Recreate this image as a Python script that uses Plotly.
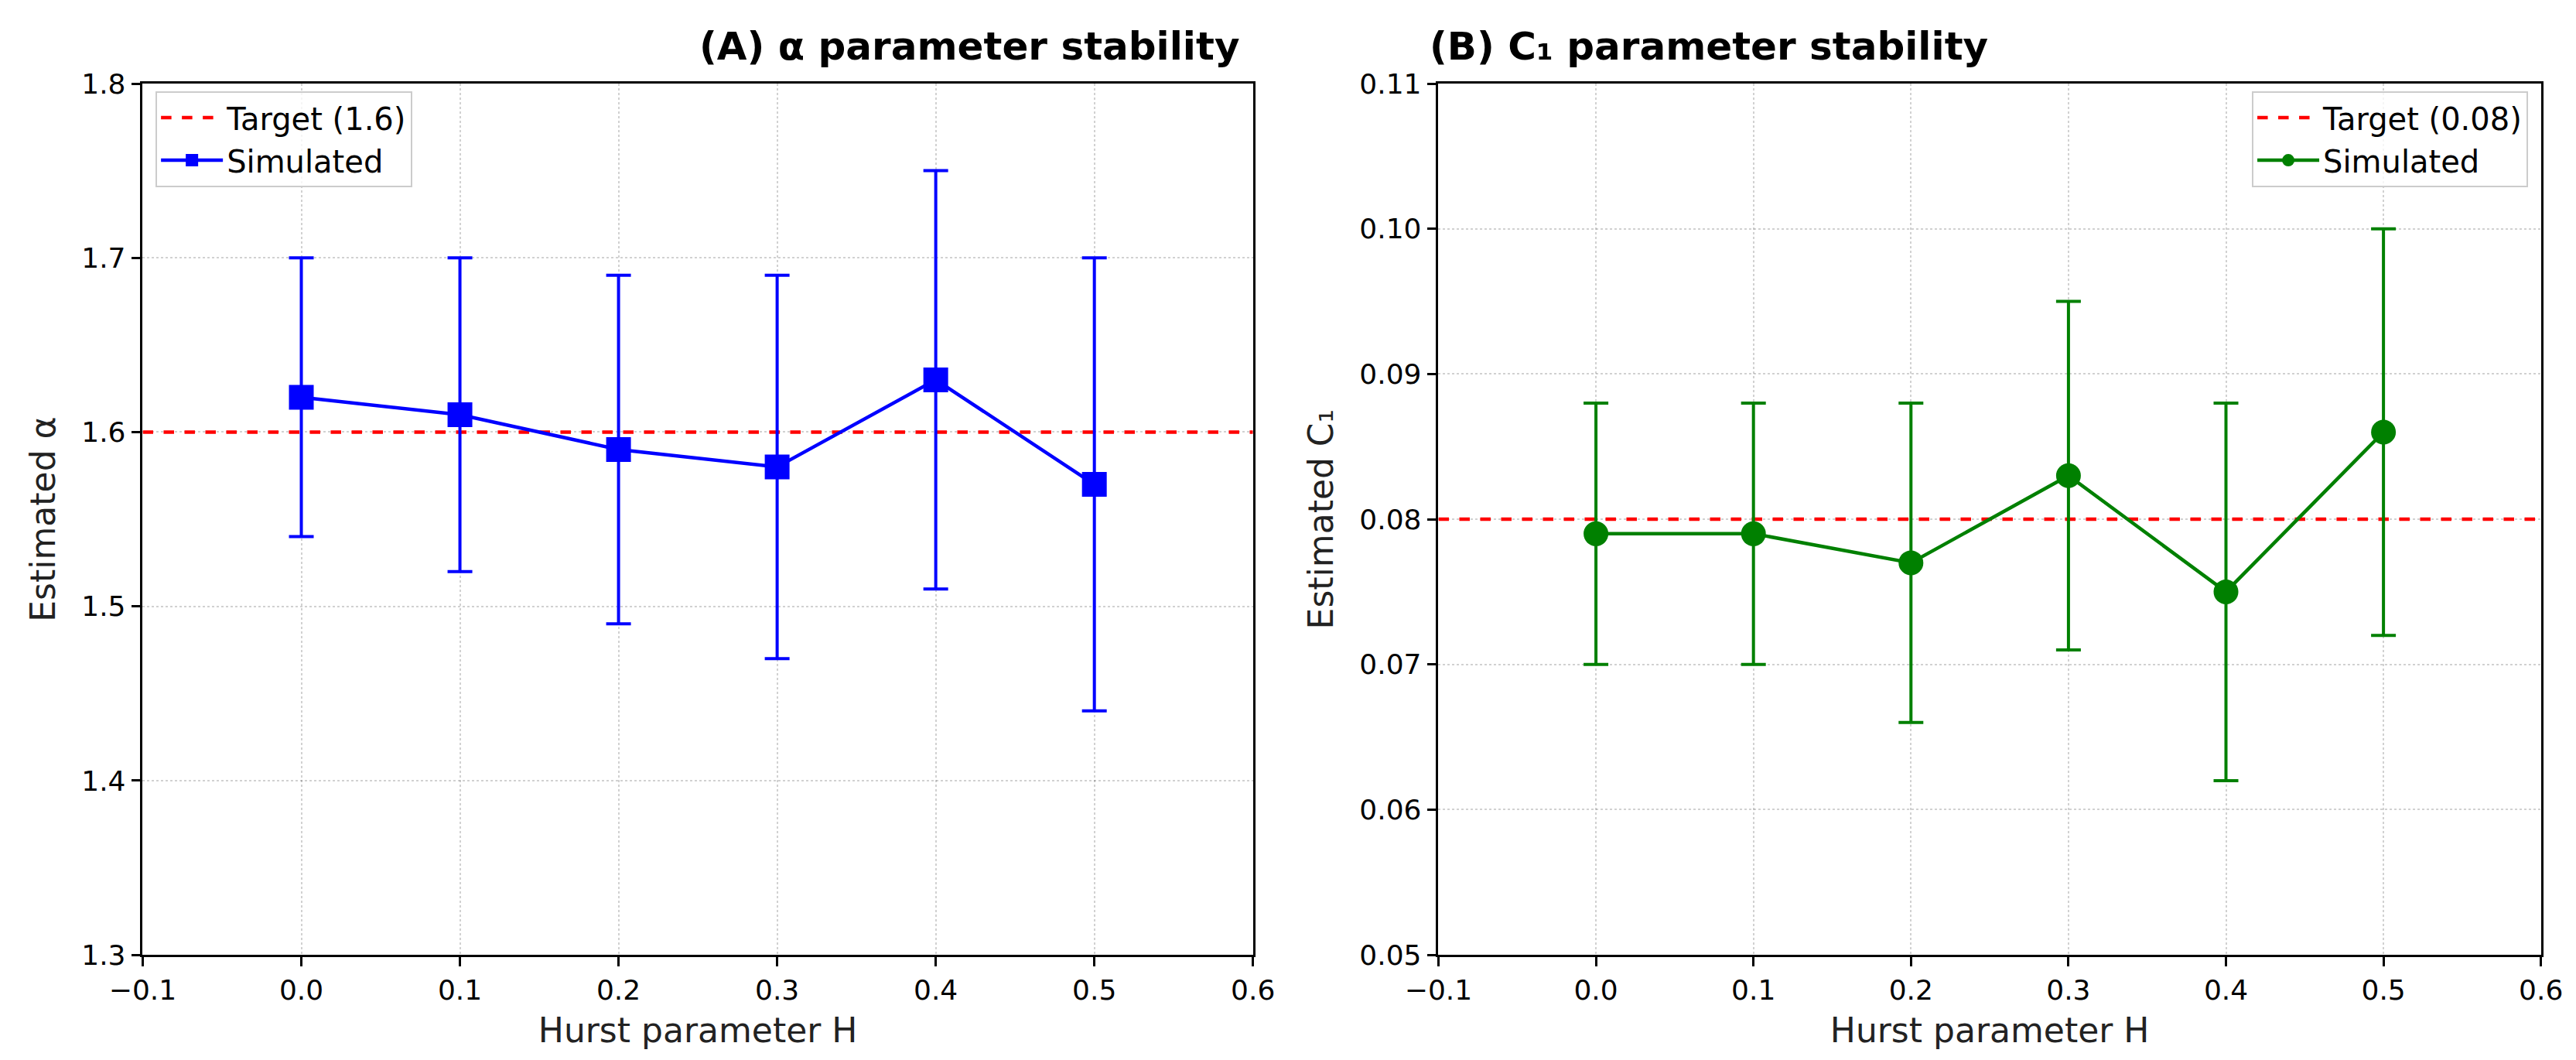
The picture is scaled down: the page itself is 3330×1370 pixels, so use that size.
import plotly.graph_objects as go
from plotly.subplots import make_subplots

hurst = [0.0, 0.1, 0.2, 0.3, 0.4, 0.5]

alpha_est = [1.62, 1.61, 1.59, 1.58, 1.63, 1.57]
alpha_hi = [1.70, 1.70, 1.69, 1.69, 1.75, 1.70]
alpha_lo = [1.54, 1.52, 1.49, 1.47, 1.51, 1.44]
alpha_target = 1.6

c1_est = [0.079, 0.079, 0.077, 0.083, 0.075, 0.086]
c1_hi = [0.088, 0.088, 0.088, 0.095, 0.088, 0.100]
c1_lo = [0.070, 0.070, 0.066, 0.071, 0.062, 0.072]
c1_target = 0.08

FONT = "DejaVu Sans"

fig = make_subplots(rows=1, cols=2)


def add_panel(col, est, hi, lo, target, color, symbol, target_label, legend):
    fig.add_trace(
        go.Scatter(
            x=[-0.1, 0.6], y=[target, target], mode="lines",
            line=dict(color="red", width=4.5, dash="dash"),
            name=target_label, legend=legend,
        ),
        row=1, col=col,
    )
    fig.add_trace(
        go.Scatter(
            x=hurst, y=est, mode="lines+markers",
            line=dict(color=color, width=4.5),
            marker=dict(symbol=symbol, size=32, color=color),
            error_y=dict(
                type="data", symmetric=False,
                array=[h - e for h, e in zip(hi, est)],
                arrayminus=[e - l for e, l in zip(est, lo)],
                color=color, thickness=4, width=16,
            ),
            name="Simulated", legend=legend,
        ),
        row=1, col=col,
    )


add_panel(1, alpha_est, alpha_hi, alpha_lo, alpha_target, "#0000ff", "square", "Target (1.6)", "legend")
add_panel(2, c1_est, c1_hi, c1_lo, c1_target, "#008000", "circle", "Target (0.08)", "legend2")

axis_common = dict(
    showline=True, linecolor="black", linewidth=2.5, mirror=True,
    ticks="outside", ticklen=12, tickwidth=2.5, tickcolor="black",
    showgrid=True, gridcolor="rgba(0,0,0,0.18)", griddash="dot", gridwidth=1.5,
    zeroline=False, tickfont=dict(size=36, color="black"), automargin=False,
)
for c in (1, 2):
    fig.update_xaxes(
        range=[-0.1, 0.6], dtick=0.1, tickformat=".1f",
        title=dict(text="Hurst parameter H", font=dict(size=44, color="#222"), standoff=18),
        row=1, col=c, **axis_common,
    )
fig.update_yaxes(range=[1.3, 1.8], dtick=0.1, tickformat=".1f",
                 title=dict(text="Estimated α", font=dict(size=44, color="#222"), standoff=20),
                 row=1, col=1, **axis_common)
fig.update_yaxes(range=[0.05, 0.11], dtick=0.01, tickformat=".2f",
                 title=dict(text="Estimated C₁", font=dict(size=44, color="#222"), standoff=20),
                 row=1, col=2, **axis_common)

fig.update_layout(
    width=3330, height=1370,
    font=dict(family=FONT, color="black"),
    paper_bgcolor="white", plot_bgcolor="white",
    margin=dict(l=0, r=0, t=0, b=0, autoexpand=False),
    xaxis=dict(domain=[0.053, 0.484]),
    xaxis2=dict(domain=[0.556, 0.984]),
    yaxis=dict(domain=[0.105, 0.927]),
    yaxis2=dict(domain=[0.105, 0.927]),
    legend=dict(x=0.058, y=0.92, xanchor="left", yanchor="top",
                bgcolor="rgba(255,255,255,0.8)", bordercolor="#ccc", borderwidth=2,
                font=dict(size=40), itemwidth=80),
    legend2=dict(x=0.979, y=0.92, xanchor="right", yanchor="top",
                 bgcolor="rgba(255,255,255,0.8)", bordercolor="#ccc", borderwidth=2,
                 font=dict(size=40), itemwidth=80),
    annotations=[
        dict(text="<b>(A) α parameter stability</b>", x=0.2685, y=0.962,
             xref="paper", yref="paper", showarrow=False, yanchor="middle",
             font=dict(size=50)),
        dict(text="<b>(B) C₁ parameter stability</b>", x=0.77, y=0.962,
             xref="paper", yref="paper", showarrow=False, yanchor="middle",
             font=dict(size=50)),
    ],
)

fig.write_html("out.html")
